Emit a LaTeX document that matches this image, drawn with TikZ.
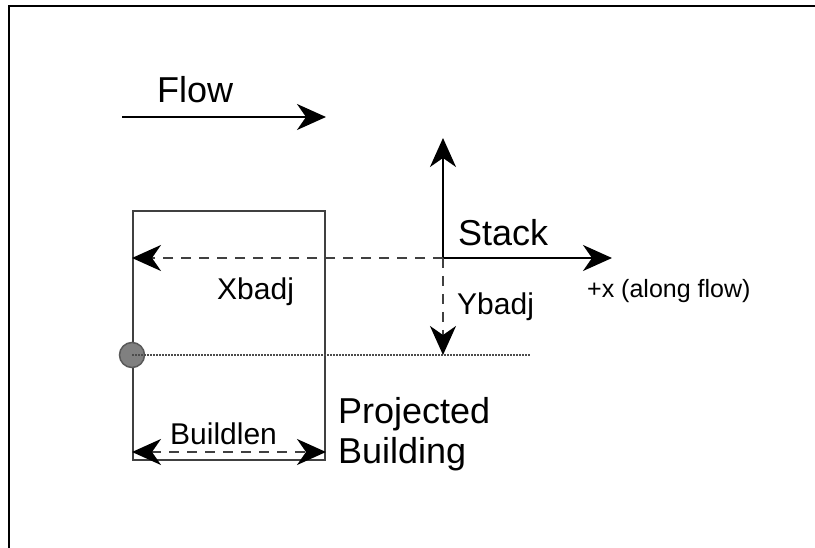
\documentclass[tikz,border=0pt]{standalone}
\usepackage{fontspec}
\setmainfont{Liberation Sans}
\usetikzlibrary{arrows.meta,positioning}

\begin{document}
\begin{tikzpicture}[x=1pt,y=-1pt,
    >={Stealth[length=29pt,width=26pt,inset=9pt,color=black]},
    every node/.style={inner sep=0pt},
    bigtext/.style={font=\fontsize{36}{40}\selectfont},
    midtext/.style={font=\fontsize{30}{36}\selectfont},
    smalltext/.style={font=\fontsize{25}{30}\selectfont},
    axis/.style={line width=2pt},
    dimline/.style={line width=2pt, draw=black!75, dash pattern=on 10pt off 8pt}]
  \useasboundingbox (0,0) rectangle (815,548);
  % frame
  \draw[line width=2.5pt] (9,548) -- (9,6) -- (815,6);

  % flow direction
  \coordinate (flowstart) at (122,117);
  \coordinate (flowend) at (326,117);
  \draw[axis,->] (flowstart) -- (flowend);
  \node[bigtext, anchor=base west] (flow) at (157,103) {Flow};

  % building
  \node[draw=black!75, line width=2pt, minimum width=192pt, minimum height=249pt] (bldg) at (229,335.5) {};
  \node[bigtext, anchor=base west, align=left] (projected) at (338,464) {Projected\\Building};

  % stack axes
  \coordinate (origin) at (443,258);
  \coordinate (uptip) at (443,138);
  \coordinate (xtip) at (612,258);
  \coordinate (dotend) at (530,355);
  \coordinate (blen) at (0,452);
  \draw[axis,->] (origin) -- (uptip);
  \draw[axis,->] (origin) -- (xtip);
  \node[bigtext, anchor=base west] (stack) at (458,246) {Stack};
  \node[smalltext, anchor=base west] (alongflow) at (587,298) {+x (along flow)};

  % source point
  \node[circle, fill=black!50, draw=black!65, line width=1.5pt, minimum size=25pt] (src) at (bldg.west |- dotend) {};
  \draw[line width=1.2pt, black!70, dash pattern=on 1.5pt off 1.5pt] (src.center) -- (dotend);

  % offsets
  \draw[dimline,->] (origin) -- (bldg.west |- origin);
  \draw[dimline,->] (origin) -- (origin |- dotend);
  \draw[dimline,<->] (bldg.west |- blen) -- (bldg.east |- blen);
  \node[midtext, anchor=base west] (xbadj) at (217,300) {Xbadj};
  \node[midtext, anchor=base west] (ybadj) at (457,315) {Ybadj};
  \node[midtext, anchor=base west] (buildlen) at (170,445) {Buildlen};
\end{tikzpicture}
\end{document}
